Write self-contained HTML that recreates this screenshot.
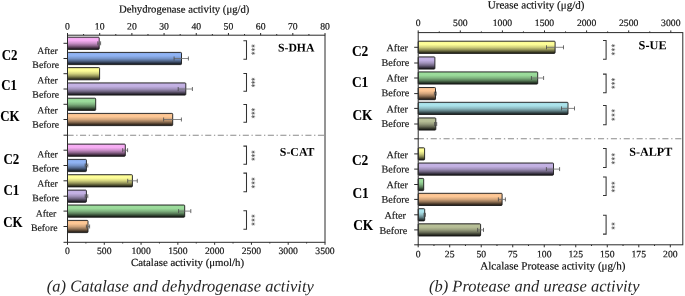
<!DOCTYPE html>
<html><head><meta charset="utf-8"><style>
html,body{margin:0;padding:0;background:#fff;}
svg{display:block;will-change:transform;font-family:"Liberation Serif",serif;}
</style></head><body>
<svg width="685" height="296" viewBox="0 0 685 296">
<defs><linearGradient id="g_pink" x1="0" y1="0" x2="0" y2="1"><stop offset="0" stop-color="#da9ad8"/><stop offset="0.12" stop-color="#f8aff5"/><stop offset="0.28" stop-color="#f6adf3"/><stop offset="0.5" stop-color="#cb90c9"/><stop offset="0.7" stop-color="#8d648c"/><stop offset="0.88" stop-color="#432f42"/><stop offset="1.0" stop-color="#191218"/></linearGradient><linearGradient id="g_blue" x1="0" y1="0" x2="0" y2="1"><stop offset="0" stop-color="#7f9ed7"/><stop offset="0.12" stop-color="#90b4f4"/><stop offset="0.28" stop-color="#8fb2f2"/><stop offset="0.5" stop-color="#7694c8"/><stop offset="0.7" stop-color="#52678b"/><stop offset="0.88" stop-color="#273142"/><stop offset="1.0" stop-color="#0e1218"/></linearGradient><linearGradient id="g_yellow" x1="0" y1="0" x2="0" y2="1"><stop offset="0" stop-color="#e0e087"/><stop offset="0.12" stop-color="#ffff99"/><stop offset="0.28" stop-color="#fcfc97"/><stop offset="0.5" stop-color="#d1d17d"/><stop offset="0.7" stop-color="#919157"/><stop offset="0.88" stop-color="#454529"/><stop offset="1.0" stop-color="#1a1a0f"/></linearGradient><linearGradient id="g_purple" x1="0" y1="0" x2="0" y2="1"><stop offset="0" stop-color="#ac9dc9"/><stop offset="0.12" stop-color="#c4b2e4"/><stop offset="0.28" stop-color="#c2b0e2"/><stop offset="0.5" stop-color="#a192bb"/><stop offset="0.7" stop-color="#706582"/><stop offset="0.88" stop-color="#35303e"/><stop offset="1.0" stop-color="#141217"/></linearGradient><linearGradient id="g_green" x1="0" y1="0" x2="0" y2="1"><stop offset="0" stop-color="#89c289"/><stop offset="0.12" stop-color="#9cdc9c"/><stop offset="0.28" stop-color="#9ada9a"/><stop offset="0.5" stop-color="#80b480"/><stop offset="0.7" stop-color="#597d59"/><stop offset="0.88" stop-color="#2a3b2a"/><stop offset="1.0" stop-color="#101610"/></linearGradient><linearGradient id="g_tan" x1="0" y1="0" x2="0" y2="1"><stop offset="0" stop-color="#e0b084"/><stop offset="0.12" stop-color="#ffc896"/><stop offset="0.28" stop-color="#fcc694"/><stop offset="0.5" stop-color="#d1a47b"/><stop offset="0.7" stop-color="#917255"/><stop offset="0.88" stop-color="#453628"/><stop offset="1.0" stop-color="#1a140f"/></linearGradient><linearGradient id="g_lblue" x1="0" y1="0" x2="0" y2="1"><stop offset="0" stop-color="#97c9d0"/><stop offset="0.12" stop-color="#ace4ec"/><stop offset="0.28" stop-color="#aae2ea"/><stop offset="0.5" stop-color="#8dbbc2"/><stop offset="0.7" stop-color="#628287"/><stop offset="0.88" stop-color="#2e3e40"/><stop offset="1.0" stop-color="#111718"/></linearGradient><linearGradient id="g_olive" x1="0" y1="0" x2="0" y2="1"><stop offset="0" stop-color="#a2a986"/><stop offset="0.12" stop-color="#b8c098"/><stop offset="0.28" stop-color="#b6be96"/><stop offset="0.5" stop-color="#979d7d"/><stop offset="0.7" stop-color="#696d57"/><stop offset="0.88" stop-color="#323429"/><stop offset="1.0" stop-color="#12130f"/></linearGradient></defs>
<rect width="685" height="296" fill="#fff"/>
<rect x="67.5" y="37.20" width="31.70" height="12.2" fill="url(#g_pink)" stroke="#1a1a1a" stroke-width="0.9" rx="0.8"/>
<line x1="97.8" y1="43.3" x2="100.6" y2="43.3" stroke="#6a6a6a" stroke-width="0.8" />
<line x1="97.8" y1="41.3" x2="97.8" y2="45.3" stroke="#4a4a4a" stroke-width="0.8" />
<line x1="100.6" y1="41.3" x2="100.6" y2="45.3" stroke="#4a4a4a" stroke-width="0.8" />
<rect x="67.5" y="52.40" width="114.00" height="12.2" fill="url(#g_blue)" stroke="#1a1a1a" stroke-width="0.9" rx="0.8"/>
<line x1="174.1" y1="58.5" x2="188.4" y2="58.5" stroke="#6a6a6a" stroke-width="0.8" />
<line x1="174.1" y1="56.5" x2="174.1" y2="60.5" stroke="#4a4a4a" stroke-width="0.8" />
<line x1="188.4" y1="56.5" x2="188.4" y2="60.5" stroke="#4a4a4a" stroke-width="0.8" />
<rect x="67.5" y="67.60" width="32.10" height="12.2" fill="url(#g_yellow)" stroke="#1a1a1a" stroke-width="0.9" rx="0.8"/>
<rect x="67.5" y="82.90" width="118.30" height="12.2" fill="url(#g_purple)" stroke="#1a1a1a" stroke-width="0.9" rx="0.8"/>
<line x1="178.2" y1="89.0" x2="192.4" y2="89.0" stroke="#6a6a6a" stroke-width="0.8" />
<line x1="178.2" y1="87.0" x2="178.2" y2="91.0" stroke="#4a4a4a" stroke-width="0.8" />
<line x1="192.4" y1="87.0" x2="192.4" y2="91.0" stroke="#4a4a4a" stroke-width="0.8" />
<rect x="67.5" y="98.20" width="28.20" height="12.2" fill="url(#g_green)" stroke="#1a1a1a" stroke-width="0.9" rx="0.8"/>
<rect x="67.5" y="113.40" width="105.20" height="12.2" fill="url(#g_tan)" stroke="#1a1a1a" stroke-width="0.9" rx="0.8"/>
<line x1="163.6" y1="119.5" x2="181.4" y2="119.5" stroke="#6a6a6a" stroke-width="0.8" />
<line x1="163.6" y1="117.5" x2="163.6" y2="121.5" stroke="#4a4a4a" stroke-width="0.8" />
<line x1="181.4" y1="117.5" x2="181.4" y2="121.5" stroke="#4a4a4a" stroke-width="0.8" />
<rect x="67.5" y="144.10" width="57.80" height="12.2" fill="url(#g_pink)" stroke="#1a1a1a" stroke-width="0.9" rx="0.8"/>
<line x1="122.7" y1="150.2" x2="127.6" y2="150.2" stroke="#6a6a6a" stroke-width="0.8" />
<line x1="122.7" y1="148.2" x2="122.7" y2="152.2" stroke="#4a4a4a" stroke-width="0.8" />
<line x1="127.6" y1="148.2" x2="127.6" y2="152.2" stroke="#4a4a4a" stroke-width="0.8" />
<rect x="67.5" y="159.40" width="18.90" height="12.2" fill="url(#g_blue)" stroke="#1a1a1a" stroke-width="0.9" rx="0.8"/>
<line x1="85.2" y1="165.5" x2="87.8" y2="165.5" stroke="#6a6a6a" stroke-width="0.8" />
<line x1="85.2" y1="163.5" x2="85.2" y2="167.5" stroke="#4a4a4a" stroke-width="0.8" />
<line x1="87.8" y1="163.5" x2="87.8" y2="167.5" stroke="#4a4a4a" stroke-width="0.8" />
<rect x="67.5" y="174.70" width="64.90" height="12.2" fill="url(#g_yellow)" stroke="#1a1a1a" stroke-width="0.9" rx="0.8"/>
<line x1="127.7" y1="180.8" x2="137.3" y2="180.8" stroke="#6a6a6a" stroke-width="0.8" />
<line x1="127.7" y1="178.8" x2="127.7" y2="182.8" stroke="#4a4a4a" stroke-width="0.8" />
<line x1="137.3" y1="178.8" x2="137.3" y2="182.8" stroke="#4a4a4a" stroke-width="0.8" />
<rect x="67.5" y="190.10" width="18.90" height="12.2" fill="url(#g_purple)" stroke="#1a1a1a" stroke-width="0.9" rx="0.8"/>
<line x1="85.2" y1="196.2" x2="87.8" y2="196.2" stroke="#6a6a6a" stroke-width="0.8" />
<line x1="85.2" y1="194.2" x2="85.2" y2="198.2" stroke="#4a4a4a" stroke-width="0.8" />
<line x1="87.8" y1="194.2" x2="87.8" y2="198.2" stroke="#4a4a4a" stroke-width="0.8" />
<rect x="67.5" y="205.00" width="117.20" height="12.2" fill="url(#g_green)" stroke="#1a1a1a" stroke-width="0.9" rx="0.8"/>
<line x1="178.6" y1="211.1" x2="190.8" y2="211.1" stroke="#6a6a6a" stroke-width="0.8" />
<line x1="178.6" y1="209.1" x2="178.6" y2="213.1" stroke="#4a4a4a" stroke-width="0.8" />
<line x1="190.8" y1="209.1" x2="190.8" y2="213.1" stroke="#4a4a4a" stroke-width="0.8" />
<rect x="67.5" y="220.40" width="20.50" height="12.2" fill="url(#g_tan)" stroke="#1a1a1a" stroke-width="0.9" rx="0.8"/>
<line x1="86.4" y1="226.5" x2="89.6" y2="226.5" stroke="#6a6a6a" stroke-width="0.8" />
<line x1="86.4" y1="224.5" x2="86.4" y2="228.5" stroke="#4a4a4a" stroke-width="0.8" />
<line x1="89.6" y1="224.5" x2="89.6" y2="228.5" stroke="#4a4a4a" stroke-width="0.8" />
<line x1="67.5" y1="135.2" x2="325" y2="135.2" stroke="#8a8a8a" stroke-width="1.1" stroke-dasharray="6.1 2.6 1.3 2.52"/>
<rect x="67.5" y="35.2" width="257.5" height="207.10000000000002" fill="none" stroke="#2a2a2a" stroke-width="1"/>
<line x1="63.5" y1="43.3" x2="67.5" y2="43.3" stroke="#2a2a2a" stroke-width="1" />
<line x1="63.5" y1="58.5" x2="67.5" y2="58.5" stroke="#2a2a2a" stroke-width="1" />
<line x1="63.5" y1="73.7" x2="67.5" y2="73.7" stroke="#2a2a2a" stroke-width="1" />
<line x1="63.5" y1="89.0" x2="67.5" y2="89.0" stroke="#2a2a2a" stroke-width="1" />
<line x1="63.5" y1="104.3" x2="67.5" y2="104.3" stroke="#2a2a2a" stroke-width="1" />
<line x1="63.5" y1="119.5" x2="67.5" y2="119.5" stroke="#2a2a2a" stroke-width="1" />
<line x1="63.5" y1="135.2" x2="67.5" y2="135.2" stroke="#2a2a2a" stroke-width="1" />
<line x1="63.5" y1="150.2" x2="67.5" y2="150.2" stroke="#2a2a2a" stroke-width="1" />
<line x1="63.5" y1="165.5" x2="67.5" y2="165.5" stroke="#2a2a2a" stroke-width="1" />
<line x1="63.5" y1="180.8" x2="67.5" y2="180.8" stroke="#2a2a2a" stroke-width="1" />
<line x1="63.5" y1="196.2" x2="67.5" y2="196.2" stroke="#2a2a2a" stroke-width="1" />
<line x1="63.5" y1="211.1" x2="67.5" y2="211.1" stroke="#2a2a2a" stroke-width="1" />
<line x1="63.5" y1="226.5" x2="67.5" y2="226.5" stroke="#2a2a2a" stroke-width="1" />
<line x1="63.5" y1="242.3" x2="67.5" y2="242.3" stroke="#2a2a2a" stroke-width="1" />
<line x1="67.5" y1="35.2" x2="67.5" y2="33.0" stroke="#2a2a2a" stroke-width="1" />
<text transform="matrix(1,0.0005,0.0005,1,67.5,29.6)" font-size="9.7" text-anchor="middle" font-weight="normal" font-style="normal" fill="#111" stroke="#111" stroke-width="0.18" >0</text>
<line x1="83.59375" y1="35.2" x2="83.59375" y2="34.0" stroke="#2a2a2a" stroke-width="1" />
<line x1="99.6875" y1="35.2" x2="99.6875" y2="33.0" stroke="#2a2a2a" stroke-width="1" />
<text transform="matrix(1,0.0005,0.0005,1,99.6875,29.6)" font-size="9.7" text-anchor="middle" font-weight="normal" font-style="normal" fill="#111" stroke="#111" stroke-width="0.18" >10</text>
<line x1="115.78125" y1="35.2" x2="115.78125" y2="34.0" stroke="#2a2a2a" stroke-width="1" />
<line x1="131.875" y1="35.2" x2="131.875" y2="33.0" stroke="#2a2a2a" stroke-width="1" />
<text transform="matrix(1,0.0005,0.0005,1,131.875,29.6)" font-size="9.7" text-anchor="middle" font-weight="normal" font-style="normal" fill="#111" stroke="#111" stroke-width="0.18" >20</text>
<line x1="147.96875" y1="35.2" x2="147.96875" y2="34.0" stroke="#2a2a2a" stroke-width="1" />
<line x1="164.0625" y1="35.2" x2="164.0625" y2="33.0" stroke="#2a2a2a" stroke-width="1" />
<text transform="matrix(1,0.0005,0.0005,1,164.0625,29.6)" font-size="9.7" text-anchor="middle" font-weight="normal" font-style="normal" fill="#111" stroke="#111" stroke-width="0.18" >30</text>
<line x1="180.15625" y1="35.2" x2="180.15625" y2="34.0" stroke="#2a2a2a" stroke-width="1" />
<line x1="196.25" y1="35.2" x2="196.25" y2="33.0" stroke="#2a2a2a" stroke-width="1" />
<text transform="matrix(1,0.0005,0.0005,1,196.25,29.6)" font-size="9.7" text-anchor="middle" font-weight="normal" font-style="normal" fill="#111" stroke="#111" stroke-width="0.18" >40</text>
<line x1="212.34375" y1="35.2" x2="212.34375" y2="34.0" stroke="#2a2a2a" stroke-width="1" />
<line x1="228.4375" y1="35.2" x2="228.4375" y2="33.0" stroke="#2a2a2a" stroke-width="1" />
<text transform="matrix(1,0.0005,0.0005,1,228.4375,29.6)" font-size="9.7" text-anchor="middle" font-weight="normal" font-style="normal" fill="#111" stroke="#111" stroke-width="0.18" >50</text>
<line x1="244.53125" y1="35.2" x2="244.53125" y2="34.0" stroke="#2a2a2a" stroke-width="1" />
<line x1="260.625" y1="35.2" x2="260.625" y2="33.0" stroke="#2a2a2a" stroke-width="1" />
<text transform="matrix(1,0.0005,0.0005,1,260.625,29.6)" font-size="9.7" text-anchor="middle" font-weight="normal" font-style="normal" fill="#111" stroke="#111" stroke-width="0.18" >60</text>
<line x1="276.71875" y1="35.2" x2="276.71875" y2="34.0" stroke="#2a2a2a" stroke-width="1" />
<line x1="292.8125" y1="35.2" x2="292.8125" y2="33.0" stroke="#2a2a2a" stroke-width="1" />
<text transform="matrix(1,0.0005,0.0005,1,292.8125,29.6)" font-size="9.7" text-anchor="middle" font-weight="normal" font-style="normal" fill="#111" stroke="#111" stroke-width="0.18" >70</text>
<line x1="308.90625" y1="35.2" x2="308.90625" y2="34.0" stroke="#2a2a2a" stroke-width="1" />
<line x1="325.0" y1="35.2" x2="325.0" y2="33.0" stroke="#2a2a2a" stroke-width="1" />
<text transform="matrix(1,0.0005,0.0005,1,325.0,29.6)" font-size="9.7" text-anchor="middle" font-weight="normal" font-style="normal" fill="#111" stroke="#111" stroke-width="0.18" >80</text>
<line x1="67.5" y1="242.3" x2="67.5" y2="244.8" stroke="#2a2a2a" stroke-width="1" />
<text transform="matrix(1,0.0005,0.0005,1,67.5,253.9)" font-size="9.7" text-anchor="middle" font-weight="normal" font-style="normal" fill="#111" stroke="#111" stroke-width="0.18" >0</text>
<line x1="85.89285714285714" y1="242.3" x2="85.89285714285714" y2="243.5" stroke="#2a2a2a" stroke-width="1" />
<line x1="104.28571428571428" y1="242.3" x2="104.28571428571428" y2="244.8" stroke="#2a2a2a" stroke-width="1" />
<text transform="matrix(1,0.0005,0.0005,1,104.28571428571428,253.9)" font-size="9.7" text-anchor="middle" font-weight="normal" font-style="normal" fill="#111" stroke="#111" stroke-width="0.18" >500</text>
<line x1="122.67857142857143" y1="242.3" x2="122.67857142857143" y2="243.5" stroke="#2a2a2a" stroke-width="1" />
<line x1="141.07142857142856" y1="242.3" x2="141.07142857142856" y2="244.8" stroke="#2a2a2a" stroke-width="1" />
<text transform="matrix(1,0.0005,0.0005,1,141.07142857142856,253.9)" font-size="9.7" text-anchor="middle" font-weight="normal" font-style="normal" fill="#111" stroke="#111" stroke-width="0.18" >1000</text>
<line x1="159.46428571428572" y1="242.3" x2="159.46428571428572" y2="243.5" stroke="#2a2a2a" stroke-width="1" />
<line x1="177.85714285714286" y1="242.3" x2="177.85714285714286" y2="244.8" stroke="#2a2a2a" stroke-width="1" />
<text transform="matrix(1,0.0005,0.0005,1,177.85714285714286,253.9)" font-size="9.7" text-anchor="middle" font-weight="normal" font-style="normal" fill="#111" stroke="#111" stroke-width="0.18" >1500</text>
<line x1="196.25" y1="242.3" x2="196.25" y2="243.5" stroke="#2a2a2a" stroke-width="1" />
<line x1="214.64285714285714" y1="242.3" x2="214.64285714285714" y2="244.8" stroke="#2a2a2a" stroke-width="1" />
<text transform="matrix(1,0.0005,0.0005,1,214.64285714285714,253.9)" font-size="9.7" text-anchor="middle" font-weight="normal" font-style="normal" fill="#111" stroke="#111" stroke-width="0.18" >2000</text>
<line x1="233.03571428571428" y1="242.3" x2="233.03571428571428" y2="243.5" stroke="#2a2a2a" stroke-width="1" />
<line x1="251.42857142857142" y1="242.3" x2="251.42857142857142" y2="244.8" stroke="#2a2a2a" stroke-width="1" />
<text transform="matrix(1,0.0005,0.0005,1,251.42857142857142,253.9)" font-size="9.7" text-anchor="middle" font-weight="normal" font-style="normal" fill="#111" stroke="#111" stroke-width="0.18" >2500</text>
<line x1="269.82142857142856" y1="242.3" x2="269.82142857142856" y2="243.5" stroke="#2a2a2a" stroke-width="1" />
<line x1="288.2142857142857" y1="242.3" x2="288.2142857142857" y2="244.8" stroke="#2a2a2a" stroke-width="1" />
<text transform="matrix(1,0.0005,0.0005,1,288.2142857142857,253.9)" font-size="9.7" text-anchor="middle" font-weight="normal" font-style="normal" fill="#111" stroke="#111" stroke-width="0.18" >3000</text>
<line x1="306.6071428571429" y1="242.3" x2="306.6071428571429" y2="243.5" stroke="#2a2a2a" stroke-width="1" />
<line x1="325.0" y1="242.3" x2="325.0" y2="244.8" stroke="#2a2a2a" stroke-width="1" />
<text transform="matrix(1,0.0005,0.0005,1,325.0,253.9)" font-size="9.7" text-anchor="middle" font-weight="normal" font-style="normal" fill="#111" stroke="#111" stroke-width="0.18" >3500</text>
<text transform="matrix(1,0.0005,0.0005,1,119.0,12.6)" font-size="10.7" text-anchor="start" font-weight="normal" font-style="normal" fill="#111" stroke="#111" stroke-width="0.18" >Dehydrogenase activity (μg/d)</text>
<text transform="matrix(1,0.0005,0.0005,1,131.0,266.0)" font-size="10.85" text-anchor="start" font-weight="normal" font-style="normal" fill="#111" stroke="#111" stroke-width="0.18" >Catalase activity (μmol/h)</text>
<text transform="matrix(1,0.0005,0.0005,1.06,1.7,59.5)" font-size="12.9" font-weight="bold" fill="#000" stroke="#000" stroke-width="0.08">C2</text>
<text transform="matrix(1,0.0005,0.0005,1.06,1.3,90.4)" font-size="12.9" font-weight="bold" fill="#000" stroke="#000" stroke-width="0.08">C1</text>
<text transform="matrix(1,0.0005,0.0005,1.06,0.2,120.9)" font-size="12.9" font-weight="bold" fill="#000" stroke="#000" stroke-width="0.08">CK</text>
<text transform="matrix(1,0.0005,0.0005,1.06,3.4,163.8)" font-size="12.9" font-weight="bold" fill="#000" stroke="#000" stroke-width="0.08">C2</text>
<text transform="matrix(1,0.0005,0.0005,1.06,3.4,194.6)" font-size="12.9" font-weight="bold" fill="#000" stroke="#000" stroke-width="0.08">C1</text>
<text transform="matrix(1,0.0005,0.0005,1.06,3.2,227.4)" font-size="12.9" font-weight="bold" fill="#000" stroke="#000" stroke-width="0.08">CK</text>
<text transform="matrix(1,0.0005,0.0005,1,57.8,54.1)" font-size="9.8" text-anchor="end" font-weight="normal" font-style="normal" fill="#1a1a1a" stroke="#1a1a1a" stroke-width="0.18" >After</text>
<text transform="matrix(1,0.0005,0.0005,1,57.8,83.60000000000001)" font-size="9.8" text-anchor="end" font-weight="normal" font-style="normal" fill="#1a1a1a" stroke="#1a1a1a" stroke-width="0.18" >After</text>
<text transform="matrix(1,0.0005,0.0005,1,57.8,113.60000000000001)" font-size="9.8" text-anchor="end" font-weight="normal" font-style="normal" fill="#1a1a1a" stroke="#1a1a1a" stroke-width="0.18" >After</text>
<text transform="matrix(1,0.0005,0.0005,1,57.8,157.4)" font-size="9.8" text-anchor="end" font-weight="normal" font-style="normal" fill="#1a1a1a" stroke="#1a1a1a" stroke-width="0.18" >After</text>
<text transform="matrix(1,0.0005,0.0005,1,57.8,186.70000000000002)" font-size="9.8" text-anchor="end" font-weight="normal" font-style="normal" fill="#1a1a1a" stroke="#1a1a1a" stroke-width="0.18" >After</text>
<text transform="matrix(1,0.0005,0.0005,1,56.3,216.70000000000002)" font-size="9.8" text-anchor="end" font-weight="normal" font-style="normal" fill="#1a1a1a" stroke="#1a1a1a" stroke-width="0.18" >After</text>
<text transform="matrix(1,0.0005,0.0005,1,59.0,67.9)" font-size="9.8" text-anchor="end" font-weight="normal" font-style="normal" fill="#1a1a1a" stroke="#1a1a1a" stroke-width="0.18" >Before</text>
<text transform="matrix(1,0.0005,0.0005,1,59.0,97.80000000000001)" font-size="9.8" text-anchor="end" font-weight="normal" font-style="normal" fill="#1a1a1a" stroke="#1a1a1a" stroke-width="0.18" >Before</text>
<text transform="matrix(1,0.0005,0.0005,1,59.0,127.80000000000001)" font-size="9.8" text-anchor="end" font-weight="normal" font-style="normal" fill="#1a1a1a" stroke="#1a1a1a" stroke-width="0.18" >Before</text>
<text transform="matrix(1,0.0005,0.0005,1,59.0,171.6)" font-size="9.8" text-anchor="end" font-weight="normal" font-style="normal" fill="#1a1a1a" stroke="#1a1a1a" stroke-width="0.18" >Before</text>
<text transform="matrix(1,0.0005,0.0005,1,59.0,201.20000000000002)" font-size="9.8" text-anchor="end" font-weight="normal" font-style="normal" fill="#1a1a1a" stroke="#1a1a1a" stroke-width="0.18" >Before</text>
<text transform="matrix(1,0.0005,0.0005,1,57.6,230.9)" font-size="9.8" text-anchor="end" font-weight="normal" font-style="normal" fill="#1a1a1a" stroke="#1a1a1a" stroke-width="0.18" >Before</text>
<path d="M243.4,40.7 H246.5 V59.2 H243.4" fill="none" stroke="#333" stroke-width="1.05"/>
<path d="M251.24,46.00L255.16,46.00M252.35,44.53L254.05,47.47M254.05,44.53L252.35,47.47M251.24,49.65L255.16,49.65M252.35,48.18L254.05,51.12M254.05,48.18L252.35,51.12M251.24,53.30L255.16,53.30M252.35,51.83L254.05,54.77M254.05,51.83L252.35,54.77" stroke="#222" stroke-width="0.5" fill="none"/>
<path d="M243.4,73.4 H246.5 V91.3 H243.4" fill="none" stroke="#333" stroke-width="1.05"/>
<path d="M251.24,79.30L255.16,79.30M252.35,77.83L254.05,80.77M254.05,77.83L252.35,80.77M251.24,82.45L255.16,82.45M252.35,80.98L254.05,83.92M254.05,80.98L252.35,83.92M251.24,85.60L255.16,85.60M252.35,84.13L254.05,87.07M254.05,84.13L252.35,87.07" stroke="#222" stroke-width="0.5" fill="none"/>
<path d="M243.4,104.5 H246.5 V122.3 H243.4" fill="none" stroke="#333" stroke-width="1.05"/>
<path d="M251.24,109.70L255.16,109.70M252.35,108.23L254.05,111.17M254.05,108.23L252.35,111.17M251.24,113.20L255.16,113.20M252.35,111.73L254.05,114.67M254.05,111.73L252.35,114.67M251.24,116.70L255.16,116.70M252.35,115.23L254.05,118.17M254.05,115.23L252.35,118.17" stroke="#222" stroke-width="0.5" fill="none"/>
<path d="M243.4,146.1 H246.5 V164.3 H243.4" fill="none" stroke="#333" stroke-width="1.05"/>
<path d="M251.24,152.10L255.16,152.10M252.35,150.63L254.05,153.57M254.05,150.63L252.35,153.57M251.24,155.60L255.16,155.60M252.35,154.13L254.05,157.07M254.05,154.13L252.35,157.07M251.24,159.10L255.16,159.10M252.35,157.63L254.05,160.57M254.05,157.63L252.35,160.57" stroke="#222" stroke-width="0.5" fill="none"/>
<path d="M243.4,173.1 H246.5 V191.7 H243.4" fill="none" stroke="#333" stroke-width="1.05"/>
<path d="M251.24,179.10L255.16,179.10M252.35,177.63L254.05,180.57M254.05,177.63L252.35,180.57M251.24,182.90L255.16,182.90M252.35,181.43L254.05,184.37M254.05,181.43L252.35,184.37M251.24,186.70L255.16,186.70M252.35,185.23L254.05,188.17M254.05,185.23L252.35,188.17" stroke="#222" stroke-width="0.5" fill="none"/>
<path d="M243.4,210.7 H246.5 V229.2 H243.4" fill="none" stroke="#333" stroke-width="1.05"/>
<path d="M251.24,216.10L255.16,216.10M252.35,214.63L254.05,217.57M254.05,214.63L252.35,217.57M251.24,220.05L255.16,220.05M252.35,218.58L254.05,221.52M254.05,218.58L252.35,221.52M251.24,224.00L255.16,224.00M252.35,222.53L254.05,225.47M254.05,222.53L252.35,225.47" stroke="#222" stroke-width="0.5" fill="none"/>
<text transform="matrix(1,0.0005,0.0005,1,278.0,51.5)" font-size="11.7" text-anchor="start" font-weight="bold" font-style="normal" fill="#000" >S-DHA</text>
<text transform="matrix(1,0.0005,0.0005,1,279.8,155.7)" font-size="11.85" text-anchor="start" font-weight="bold" font-style="normal" fill="#000" >S-CAT</text>
<rect x="418.2" y="41.20" width="136.90" height="12.2" fill="url(#g_yellow)" stroke="#1a1a1a" stroke-width="0.9" rx="0.8"/>
<line x1="546.5" y1="47.3" x2="563.5" y2="47.3" stroke="#6a6a6a" stroke-width="0.8" />
<line x1="546.5" y1="45.3" x2="546.5" y2="49.3" stroke="#4a4a4a" stroke-width="0.8" />
<line x1="563.5" y1="45.3" x2="563.5" y2="49.3" stroke="#4a4a4a" stroke-width="0.8" />
<rect x="418.2" y="56.90" width="16.70" height="12.2" fill="url(#g_purple)" stroke="#1a1a1a" stroke-width="0.9" rx="0.8"/>
<rect x="418.2" y="71.90" width="119.50" height="12.2" fill="url(#g_green)" stroke="#1a1a1a" stroke-width="0.9" rx="0.8"/>
<line x1="531.4" y1="78.0" x2="543.6" y2="78.0" stroke="#6a6a6a" stroke-width="0.8" />
<line x1="531.4" y1="76.0" x2="531.4" y2="80.0" stroke="#4a4a4a" stroke-width="0.8" />
<line x1="543.6" y1="76.0" x2="543.6" y2="80.0" stroke="#4a4a4a" stroke-width="0.8" />
<rect x="418.2" y="87.50" width="17.30" height="12.2" fill="url(#g_tan)" stroke="#1a1a1a" stroke-width="0.9" rx="0.8"/>
<line x1="434.4" y1="93.6" x2="436.2" y2="93.6" stroke="#6a6a6a" stroke-width="0.8" />
<line x1="434.4" y1="91.6" x2="434.4" y2="95.6" stroke="#4a4a4a" stroke-width="0.8" />
<line x1="436.2" y1="91.6" x2="436.2" y2="95.6" stroke="#4a4a4a" stroke-width="0.8" />
<rect x="418.2" y="102.30" width="149.80" height="12.2" fill="url(#g_lblue)" stroke="#1a1a1a" stroke-width="0.9" rx="0.8"/>
<line x1="561.5" y1="108.4" x2="574.5" y2="108.4" stroke="#6a6a6a" stroke-width="0.8" />
<line x1="561.5" y1="106.4" x2="561.5" y2="110.4" stroke="#4a4a4a" stroke-width="0.8" />
<line x1="574.5" y1="106.4" x2="574.5" y2="110.4" stroke="#4a4a4a" stroke-width="0.8" />
<rect x="418.2" y="117.90" width="17.60" height="12.2" fill="url(#g_olive)" stroke="#1a1a1a" stroke-width="0.9" rx="0.8"/>
<line x1="434.6" y1="124.0" x2="436.7" y2="124.0" stroke="#6a6a6a" stroke-width="0.8" />
<line x1="434.6" y1="122.0" x2="434.6" y2="126.0" stroke="#4a4a4a" stroke-width="0.8" />
<line x1="436.7" y1="122.0" x2="436.7" y2="126.0" stroke="#4a4a4a" stroke-width="0.8" />
<rect x="418.2" y="147.80" width="6.40" height="12.2" fill="url(#g_yellow)" stroke="#1a1a1a" stroke-width="0.9" rx="0.8"/>
<rect x="418.2" y="163.00" width="135.30" height="12.2" fill="url(#g_purple)" stroke="#1a1a1a" stroke-width="0.9" rx="0.8"/>
<line x1="546.4" y1="169.1" x2="559.6" y2="169.1" stroke="#6a6a6a" stroke-width="0.8" />
<line x1="546.4" y1="167.1" x2="546.4" y2="171.1" stroke="#4a4a4a" stroke-width="0.8" />
<line x1="559.6" y1="167.1" x2="559.6" y2="171.1" stroke="#4a4a4a" stroke-width="0.8" />
<rect x="418.2" y="178.40" width="5.50" height="12.2" fill="url(#g_green)" stroke="#1a1a1a" stroke-width="0.9" rx="0.8"/>
<rect x="418.2" y="193.30" width="83.90" height="12.2" fill="url(#g_tan)" stroke="#1a1a1a" stroke-width="0.9" rx="0.8"/>
<line x1="498.4" y1="199.4" x2="505.4" y2="199.4" stroke="#6a6a6a" stroke-width="0.8" />
<line x1="498.4" y1="197.4" x2="498.4" y2="201.4" stroke="#4a4a4a" stroke-width="0.8" />
<line x1="505.4" y1="197.4" x2="505.4" y2="201.4" stroke="#4a4a4a" stroke-width="0.8" />
<rect x="418.2" y="208.70" width="6.50" height="12.2" fill="url(#g_lblue)" stroke="#1a1a1a" stroke-width="0.9" rx="0.8"/>
<line x1="424.0" y1="214.8" x2="425.4" y2="214.8" stroke="#6a6a6a" stroke-width="0.8" />
<line x1="424.0" y1="212.8" x2="424.0" y2="216.8" stroke="#4a4a4a" stroke-width="0.8" />
<line x1="425.4" y1="212.8" x2="425.4" y2="216.8" stroke="#4a4a4a" stroke-width="0.8" />
<rect x="418.2" y="223.80" width="62.40" height="12.2" fill="url(#g_olive)" stroke="#1a1a1a" stroke-width="0.9" rx="0.8"/>
<line x1="477.6" y1="229.9" x2="483.5" y2="229.9" stroke="#6a6a6a" stroke-width="0.8" />
<line x1="477.6" y1="227.9" x2="477.6" y2="231.9" stroke="#4a4a4a" stroke-width="0.8" />
<line x1="483.5" y1="227.9" x2="483.5" y2="231.9" stroke="#4a4a4a" stroke-width="0.8" />
<line x1="417.8" y1="138.8" x2="682.8" y2="138.8" stroke="#8a8a8a" stroke-width="1.1" stroke-dasharray="6.1 2.75 1.3 2.72"/>
<rect x="418.2" y="32.6" width="264.59999999999997" height="212.20000000000002" fill="none" stroke="#2a2a2a" stroke-width="1"/>
<line x1="414.2" y1="47.3" x2="418.2" y2="47.3" stroke="#2a2a2a" stroke-width="1" />
<line x1="414.2" y1="63.0" x2="418.2" y2="63.0" stroke="#2a2a2a" stroke-width="1" />
<line x1="414.2" y1="78.0" x2="418.2" y2="78.0" stroke="#2a2a2a" stroke-width="1" />
<line x1="414.2" y1="93.6" x2="418.2" y2="93.6" stroke="#2a2a2a" stroke-width="1" />
<line x1="414.2" y1="108.4" x2="418.2" y2="108.4" stroke="#2a2a2a" stroke-width="1" />
<line x1="414.2" y1="124.0" x2="418.2" y2="124.0" stroke="#2a2a2a" stroke-width="1" />
<line x1="414.2" y1="138.8" x2="418.2" y2="138.8" stroke="#2a2a2a" stroke-width="1" />
<line x1="414.2" y1="153.9" x2="418.2" y2="153.9" stroke="#2a2a2a" stroke-width="1" />
<line x1="414.2" y1="169.1" x2="418.2" y2="169.1" stroke="#2a2a2a" stroke-width="1" />
<line x1="414.2" y1="184.5" x2="418.2" y2="184.5" stroke="#2a2a2a" stroke-width="1" />
<line x1="414.2" y1="199.4" x2="418.2" y2="199.4" stroke="#2a2a2a" stroke-width="1" />
<line x1="414.2" y1="214.8" x2="418.2" y2="214.8" stroke="#2a2a2a" stroke-width="1" />
<line x1="414.2" y1="229.9" x2="418.2" y2="229.9" stroke="#2a2a2a" stroke-width="1" />
<line x1="414.2" y1="244.8" x2="418.2" y2="244.8" stroke="#2a2a2a" stroke-width="1" />
<line x1="418.2" y1="32.6" x2="418.2" y2="30.400000000000002" stroke="#2a2a2a" stroke-width="1" />
<text transform="matrix(1,0.0005,0.0005,1,418.2,26.1)" font-size="9.7" text-anchor="middle" font-weight="normal" font-style="normal" fill="#111" stroke="#111" stroke-width="0.18" >0</text>
<line x1="439.25" y1="32.6" x2="439.25" y2="31.400000000000002" stroke="#2a2a2a" stroke-width="1" />
<line x1="460.3" y1="32.6" x2="460.3" y2="30.400000000000002" stroke="#2a2a2a" stroke-width="1" />
<text transform="matrix(1,0.0005,0.0005,1,460.3,26.1)" font-size="9.7" text-anchor="middle" font-weight="normal" font-style="normal" fill="#111" stroke="#111" stroke-width="0.18" >500</text>
<line x1="481.34999999999997" y1="32.6" x2="481.34999999999997" y2="31.400000000000002" stroke="#2a2a2a" stroke-width="1" />
<line x1="502.4" y1="32.6" x2="502.4" y2="30.400000000000002" stroke="#2a2a2a" stroke-width="1" />
<text transform="matrix(1,0.0005,0.0005,1,502.4,26.1)" font-size="9.7" text-anchor="middle" font-weight="normal" font-style="normal" fill="#111" stroke="#111" stroke-width="0.18" >1000</text>
<line x1="523.45" y1="32.6" x2="523.45" y2="31.400000000000002" stroke="#2a2a2a" stroke-width="1" />
<line x1="544.5" y1="32.6" x2="544.5" y2="30.400000000000002" stroke="#2a2a2a" stroke-width="1" />
<text transform="matrix(1,0.0005,0.0005,1,544.5,26.1)" font-size="9.7" text-anchor="middle" font-weight="normal" font-style="normal" fill="#111" stroke="#111" stroke-width="0.18" >1500</text>
<line x1="565.55" y1="32.6" x2="565.55" y2="31.400000000000002" stroke="#2a2a2a" stroke-width="1" />
<line x1="586.6" y1="32.6" x2="586.6" y2="30.400000000000002" stroke="#2a2a2a" stroke-width="1" />
<text transform="matrix(1,0.0005,0.0005,1,586.6,26.1)" font-size="9.7" text-anchor="middle" font-weight="normal" font-style="normal" fill="#111" stroke="#111" stroke-width="0.18" >2000</text>
<line x1="607.65" y1="32.6" x2="607.65" y2="31.400000000000002" stroke="#2a2a2a" stroke-width="1" />
<line x1="628.7" y1="32.6" x2="628.7" y2="30.400000000000002" stroke="#2a2a2a" stroke-width="1" />
<text transform="matrix(1,0.0005,0.0005,1,628.7,26.1)" font-size="9.7" text-anchor="middle" font-weight="normal" font-style="normal" fill="#111" stroke="#111" stroke-width="0.18" >2500</text>
<line x1="649.75" y1="32.6" x2="649.75" y2="31.400000000000002" stroke="#2a2a2a" stroke-width="1" />
<line x1="670.8" y1="32.6" x2="670.8" y2="30.400000000000002" stroke="#2a2a2a" stroke-width="1" />
<text transform="matrix(1,0.0005,0.0005,1,670.8,26.1)" font-size="9.7" text-anchor="middle" font-weight="normal" font-style="normal" fill="#111" stroke="#111" stroke-width="0.18" >3000</text>
<line x1="418.2" y1="244.8" x2="418.2" y2="247.3" stroke="#2a2a2a" stroke-width="1" />
<text transform="matrix(1,0.0005,0.0005,1,418.2,257.3)" font-size="9.7" text-anchor="middle" font-weight="normal" font-style="normal" fill="#111" stroke="#111" stroke-width="0.18" >0</text>
<line x1="449.7125" y1="244.8" x2="449.7125" y2="247.3" stroke="#2a2a2a" stroke-width="1" />
<text transform="matrix(1,0.0005,0.0005,1,449.7125,257.3)" font-size="9.7" text-anchor="middle" font-weight="normal" font-style="normal" fill="#111" stroke="#111" stroke-width="0.18" >25</text>
<line x1="481.22499999999997" y1="244.8" x2="481.22499999999997" y2="247.3" stroke="#2a2a2a" stroke-width="1" />
<text transform="matrix(1,0.0005,0.0005,1,481.22499999999997,257.3)" font-size="9.7" text-anchor="middle" font-weight="normal" font-style="normal" fill="#111" stroke="#111" stroke-width="0.18" >50</text>
<line x1="512.7375" y1="244.8" x2="512.7375" y2="247.3" stroke="#2a2a2a" stroke-width="1" />
<text transform="matrix(1,0.0005,0.0005,1,512.7375,257.3)" font-size="9.7" text-anchor="middle" font-weight="normal" font-style="normal" fill="#111" stroke="#111" stroke-width="0.18" >75</text>
<line x1="544.25" y1="244.8" x2="544.25" y2="247.3" stroke="#2a2a2a" stroke-width="1" />
<text transform="matrix(1,0.0005,0.0005,1,544.25,257.3)" font-size="9.7" text-anchor="middle" font-weight="normal" font-style="normal" fill="#111" stroke="#111" stroke-width="0.18" >100</text>
<line x1="575.7624999999999" y1="244.8" x2="575.7624999999999" y2="247.3" stroke="#2a2a2a" stroke-width="1" />
<text transform="matrix(1,0.0005,0.0005,1,575.7624999999999,257.3)" font-size="9.7" text-anchor="middle" font-weight="normal" font-style="normal" fill="#111" stroke="#111" stroke-width="0.18" >125</text>
<line x1="607.275" y1="244.8" x2="607.275" y2="247.3" stroke="#2a2a2a" stroke-width="1" />
<text transform="matrix(1,0.0005,0.0005,1,607.275,257.3)" font-size="9.7" text-anchor="middle" font-weight="normal" font-style="normal" fill="#111" stroke="#111" stroke-width="0.18" >150</text>
<line x1="638.7874999999999" y1="244.8" x2="638.7874999999999" y2="247.3" stroke="#2a2a2a" stroke-width="1" />
<text transform="matrix(1,0.0005,0.0005,1,638.7874999999999,257.3)" font-size="9.7" text-anchor="middle" font-weight="normal" font-style="normal" fill="#111" stroke="#111" stroke-width="0.18" >175</text>
<line x1="670.3" y1="244.8" x2="670.3" y2="247.3" stroke="#2a2a2a" stroke-width="1" />
<text transform="matrix(1,0.0005,0.0005,1,670.3,257.3)" font-size="9.7" text-anchor="middle" font-weight="normal" font-style="normal" fill="#111" stroke="#111" stroke-width="0.18" >200</text>
<line x1="433.95625" y1="244.8" x2="433.95625" y2="246.0" stroke="#2a2a2a" stroke-width="1" />
<line x1="465.46875" y1="244.8" x2="465.46875" y2="246.0" stroke="#2a2a2a" stroke-width="1" />
<line x1="496.98125" y1="244.8" x2="496.98125" y2="246.0" stroke="#2a2a2a" stroke-width="1" />
<line x1="528.49375" y1="244.8" x2="528.49375" y2="246.0" stroke="#2a2a2a" stroke-width="1" />
<line x1="560.0062499999999" y1="244.8" x2="560.0062499999999" y2="246.0" stroke="#2a2a2a" stroke-width="1" />
<line x1="591.51875" y1="244.8" x2="591.51875" y2="246.0" stroke="#2a2a2a" stroke-width="1" />
<line x1="623.03125" y1="244.8" x2="623.03125" y2="246.0" stroke="#2a2a2a" stroke-width="1" />
<line x1="654.5437499999999" y1="244.8" x2="654.5437499999999" y2="246.0" stroke="#2a2a2a" stroke-width="1" />
<text transform="matrix(1,0.0005,0.0005,1,487.8,8.6)" font-size="11.05" text-anchor="start" font-weight="normal" font-style="normal" fill="#111" stroke="#111" stroke-width="0.18" >Urease activity (μg/d)</text>
<text transform="matrix(1,0.0005,0.0005,1,480.2,269.4)" font-size="11.13" text-anchor="start" font-weight="normal" font-style="normal" fill="#111" stroke="#111" stroke-width="0.18" >Alcalase Protease activity (μg/h)</text>
<text transform="matrix(1,0.0005,0.0005,1.06,351.9,56.1)" font-size="13.4" font-weight="bold" fill="#000" stroke="#000" stroke-width="0.08">C2</text>
<text transform="matrix(1,0.0005,0.0005,1.06,351.9,87.0)" font-size="13.4" font-weight="bold" fill="#000" stroke="#000" stroke-width="0.08">C1</text>
<text transform="matrix(1,0.0005,0.0005,1.06,352.4,119.8)" font-size="13.4" font-weight="bold" fill="#000" stroke="#000" stroke-width="0.08">CK</text>
<text transform="matrix(1,0.0005,0.0005,1.06,351.9,164.7)" font-size="13.4" font-weight="bold" fill="#000" stroke="#000" stroke-width="0.08">C2</text>
<text transform="matrix(1,0.0005,0.0005,1.06,352.4,197.5)" font-size="13.4" font-weight="bold" fill="#000" stroke="#000" stroke-width="0.08">C1</text>
<text transform="matrix(1,0.0005,0.0005,1.06,353.2,230.4)" font-size="13.4" font-weight="bold" fill="#000" stroke="#000" stroke-width="0.08">CK</text>
<text transform="matrix(1,0.0005,0.0005,1,407.9,51.199999999999996)" font-size="10.2" text-anchor="end" font-weight="normal" font-style="normal" fill="#1a1a1a" stroke="#1a1a1a" stroke-width="0.18" >After</text>
<text transform="matrix(1,0.0005,0.0005,1,407.9,81.60000000000001)" font-size="10.2" text-anchor="end" font-weight="normal" font-style="normal" fill="#1a1a1a" stroke="#1a1a1a" stroke-width="0.18" >After</text>
<text transform="matrix(1,0.0005,0.0005,1,407.9,112.60000000000001)" font-size="10.2" text-anchor="end" font-weight="normal" font-style="normal" fill="#1a1a1a" stroke="#1a1a1a" stroke-width="0.18" >After</text>
<text transform="matrix(1,0.0005,0.0005,1,407.9,158.20000000000002)" font-size="10.2" text-anchor="end" font-weight="normal" font-style="normal" fill="#1a1a1a" stroke="#1a1a1a" stroke-width="0.18" >After</text>
<text transform="matrix(1,0.0005,0.0005,1,407.9,188.3)" font-size="10.2" text-anchor="end" font-weight="normal" font-style="normal" fill="#1a1a1a" stroke="#1a1a1a" stroke-width="0.18" >After</text>
<text transform="matrix(1,0.0005,0.0005,1,406.0,218.70000000000002)" font-size="10.2" text-anchor="end" font-weight="normal" font-style="normal" fill="#1a1a1a" stroke="#1a1a1a" stroke-width="0.18" >After</text>
<text transform="matrix(1,0.0005,0.0005,1,409.2,65.9)" font-size="10.2" text-anchor="end" font-weight="normal" font-style="normal" fill="#1a1a1a" stroke="#1a1a1a" stroke-width="0.18" >Before</text>
<text transform="matrix(1,0.0005,0.0005,1,409.2,96.30000000000001)" font-size="10.2" text-anchor="end" font-weight="normal" font-style="normal" fill="#1a1a1a" stroke="#1a1a1a" stroke-width="0.18" >Before</text>
<text transform="matrix(1,0.0005,0.0005,1,409.2,127.10000000000001)" font-size="10.2" text-anchor="end" font-weight="normal" font-style="normal" fill="#1a1a1a" stroke="#1a1a1a" stroke-width="0.18" >Before</text>
<text transform="matrix(1,0.0005,0.0005,1,409.2,172.6)" font-size="10.2" text-anchor="end" font-weight="normal" font-style="normal" fill="#1a1a1a" stroke="#1a1a1a" stroke-width="0.18" >Before</text>
<text transform="matrix(1,0.0005,0.0005,1,409.2,202.70000000000002)" font-size="10.2" text-anchor="end" font-weight="normal" font-style="normal" fill="#1a1a1a" stroke="#1a1a1a" stroke-width="0.18" >Before</text>
<text transform="matrix(1,0.0005,0.0005,1,407.2,233.9)" font-size="10.2" text-anchor="end" font-weight="normal" font-style="normal" fill="#1a1a1a" stroke="#1a1a1a" stroke-width="0.18" >Before</text>
<path d="M603.0,40.5 H606.1 V59.3 H603.0" fill="none" stroke="#333" stroke-width="1.05"/>
<path d="M611.25,45.70L615.16,45.70M612.35,44.23L614.05,47.17M614.05,44.23L612.35,47.17M611.25,49.70L615.16,49.70M612.35,48.23L614.05,51.17M614.05,48.23L612.35,51.17M611.25,53.70L615.16,53.70M612.35,52.23L614.05,55.17M614.05,52.23L612.35,55.17" stroke="#222" stroke-width="0.5" fill="none"/>
<path d="M603.0,74.1 H606.1 V92.8 H603.0" fill="none" stroke="#333" stroke-width="1.05"/>
<path d="M611.25,79.60L615.16,79.60M612.35,78.13L614.05,81.07M614.05,78.13L612.35,81.07M611.25,83.40L615.16,83.40M612.35,81.93L614.05,84.87M614.05,81.93L612.35,84.87M611.25,87.20L615.16,87.20M612.35,85.73L614.05,88.67M614.05,85.73L612.35,88.67" stroke="#222" stroke-width="0.5" fill="none"/>
<path d="M603.0,105.5 H606.1 V124.8 H603.0" fill="none" stroke="#333" stroke-width="1.05"/>
<path d="M611.25,110.80L615.16,110.80M612.35,109.33L614.05,112.27M614.05,109.33L612.35,112.27M611.25,115.00L615.16,115.00M612.35,113.53L614.05,116.47M614.05,113.53L612.35,116.47M611.25,119.20L615.16,119.20M612.35,117.73L614.05,120.67M614.05,117.73L612.35,120.67" stroke="#222" stroke-width="0.5" fill="none"/>
<path d="M603.0,148.5 H606.1 V167.4 H603.0" fill="none" stroke="#333" stroke-width="1.05"/>
<path d="M611.25,154.80L615.16,154.80M612.35,153.33L614.05,156.27M614.05,153.33L612.35,156.27M611.25,158.75L615.16,158.75M612.35,157.28L614.05,160.22M614.05,157.28L612.35,160.22M611.25,162.70L615.16,162.70M612.35,161.23L614.05,164.17M614.05,161.23L612.35,164.17" stroke="#222" stroke-width="0.5" fill="none"/>
<path d="M603.0,176.9 H606.1 V195.4 H603.0" fill="none" stroke="#333" stroke-width="1.05"/>
<path d="M611.25,183.20L615.16,183.20M612.35,181.73L614.05,184.67M614.05,181.73L612.35,184.67M611.25,186.95L615.16,186.95M612.35,185.48L614.05,188.42M614.05,185.48L612.35,188.42M611.25,190.70L615.16,190.70M612.35,189.23L614.05,192.17M614.05,189.23L612.35,192.17" stroke="#222" stroke-width="0.5" fill="none"/>
<path d="M603.0,215.3 H606.1 V234.1 H603.0" fill="none" stroke="#333" stroke-width="1.05"/>
<path d="M611.25,224.00L615.16,224.00M612.35,222.53L614.05,225.47M614.05,222.53L612.35,225.47M611.25,227.90L615.16,227.90M612.35,226.43L614.05,229.37M614.05,226.43L612.35,229.37" stroke="#222" stroke-width="0.5" fill="none"/>
<text transform="matrix(1,0.0005,0.0005,1,638.6,49.3)" font-size="12.3" text-anchor="start" font-weight="bold" font-style="normal" fill="#000" >S-UE</text>
<text transform="matrix(1,0.0005,0.0005,1,629.2,155.7)" font-size="12.15" text-anchor="start" font-weight="bold" font-style="normal" fill="#000" >S-ALPT</text>
<text transform="matrix(1,0.0005,0.0005,1,46.8,291.5)" font-size="16.5" text-anchor="start" font-weight="normal" font-style="italic" fill="#262626" >(a) Catalase and dehydrogenase activity</text>
<text transform="matrix(1,0.0005,0.0005,1,429.0,291.5)" font-size="16.5" text-anchor="start" font-weight="normal" font-style="italic" fill="#262626" >(b) Protease and urease activity</text>
</svg>
</body></html>
